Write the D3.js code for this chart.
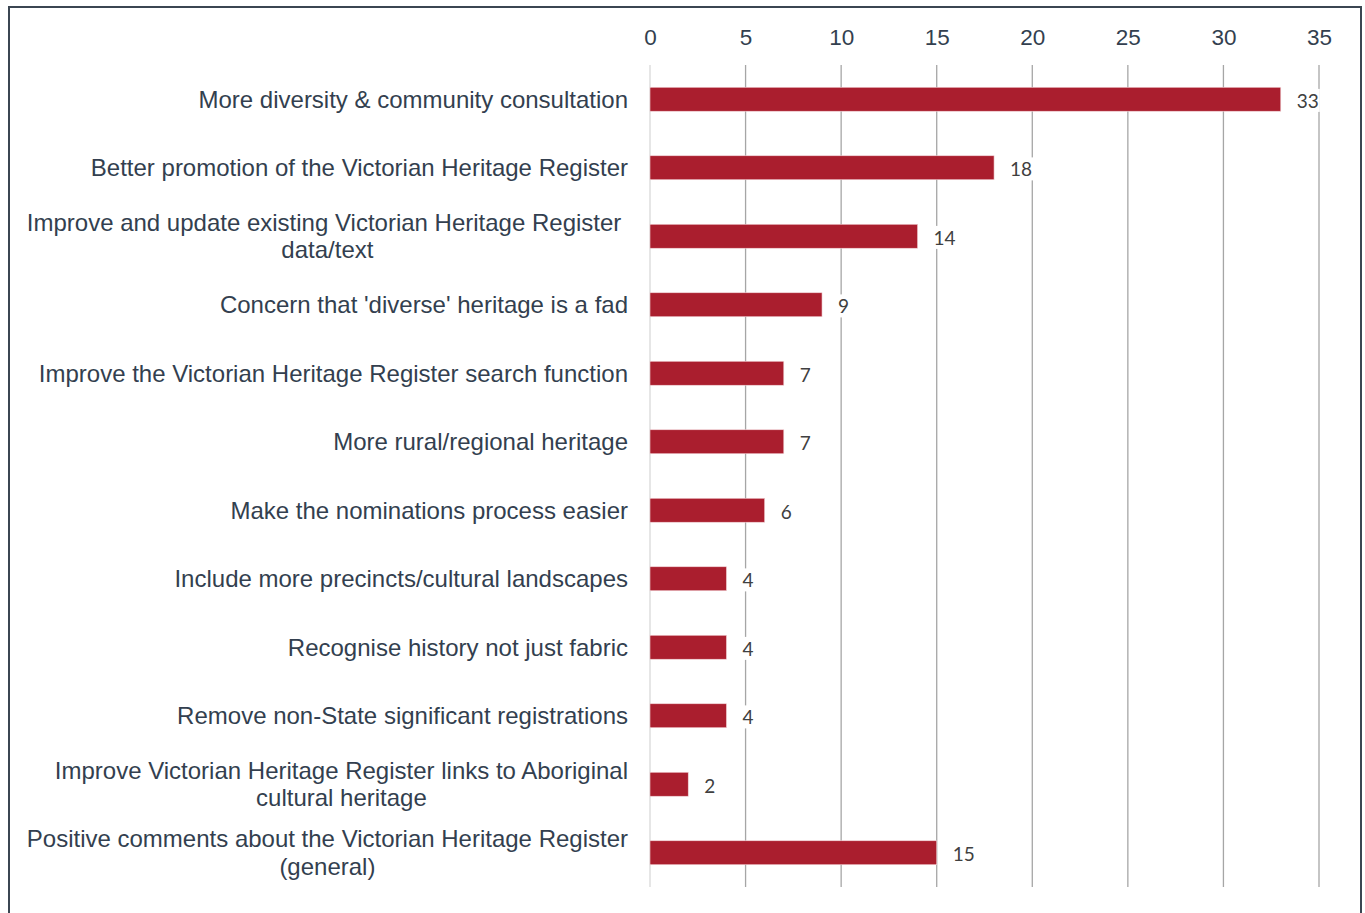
<!DOCTYPE html>
<html>
<head>
<meta charset="utf-8">
<script src="https://cdn.jsdelivr.net/npm/d3@7"></script>
<style>
  body { margin: 0; background: #fff; }
  svg { display: block; }
</style>
</head>
<body>
<svg width="1365" height="913"></svg>
<script>
// categories, top to bottom (multi-line labels split with "|")
let categories = [
  "More diversity & community consultation",
  "Better promotion of the Victorian Heritage Register",
  "Improve and update existing Victorian Heritage Register |data/text",
  "Concern that 'diverse' heritage is a fad",
  "Improve the Victorian Heritage Register search function",
  "More rural/regional heritage",
  "Make the nominations process easier ",
  "Include more precincts/cultural landscapes ",
  "Recognise history not just fabric ",
  "Remove non-State significant registrations",
  "Improve Victorian Heritage Register links to Aboriginal|cultural heritage",
  "Positive comments about the Victorian Heritage Register|(general)"
];
let values = [33, 18, 14, 9, 7, 7, 6, 4, 4, 4, 2, 15];
let tickValues = [0, 5, 10, 15, 20, 25, 30, 35];

let svg = d3.select("svg"),
    width = +svg.attr("width"),
    height = +svg.attr("height");

// frame
svg.append("rect")
    .attr("x", 9).attr("y", 7)
    .attr("width", 1352).attr("height", 920)
    .attr("fill", "none")
    .attr("stroke", "#3b4652")
    .attr("stroke-width", 2);

let x = d3.scaleLinear().domain([0, 35]).range([650, 1319]);
let y = d3.scaleBand().domain(d3.range(categories.length)).range([65, 887]).paddingInner(0.65).paddingOuter(0.325);

// gridlines
svg.append("g")
    .selectAll("line")
    .data(tickValues)
    .enter().append("line")
    .attr("x1", d => x(d)).attr("x2", d => x(d))
    .attr("y1", 65).attr("y2", 887)
    .attr("stroke", d => d === 0 ? "#d9d9d9" : "#a6a6a6")
    .attr("stroke-width", 1.3);

// top axis labels
let axis = svg.append("g")
    .attr("transform", "translate(0,37)")
    .call(d3.axisTop(x).tickValues(tickValues).tickSize(0).tickPadding(0));
axis.select(".domain").remove();
axis.selectAll("text")
    .attr("dy", "0.35em")
    .style("font-family", "'Liberation Sans', Arial, sans-serif")
    .style("font-size", "22.5px")
    .attr("fill", "#333f4f");

// bars
svg.append("g")
    .selectAll("rect")
    .data(values)
    .enter().append("rect")
    .attr("x", x(0))
    .attr("y", (d, i) => y(i))
    .attr("width", d => x(d) - x(0))
    .attr("height", y.bandwidth())
    .attr("fill", "#aa1e2e")
    .attr("stroke", "#f2d5d8")
    .attr("stroke-width", 0.6);

// value labels with white background
let vl = svg.append("g")
    .selectAll("g")
    .data(values)
    .enter().append("g")
    .attr("transform", (d, i) => "translate(" + (x(d) + 16) + "," + (y(i) + y.bandwidth() / 2 + 2) + ")");

vl.append("text")
    .text(d => d)
    .attr("dy", "0.35em")
    .style("font-family", "Lato, 'Open Sans', sans-serif")
    .style("font-size", "19px")
    .attr("fill", "#404040")
    .each(function() {
      let bb = this.getBBox();
      d3.select(this.parentNode).insert("rect", "text")
          .attr("x", bb.x - 1).attr("y", bb.y)
          .attr("width", bb.width + 2).attr("height", bb.height)
          .attr("fill", "#fff");
    });

// category labels
let lineH = 27.5;
let cl = svg.append("g")
    .selectAll("text")
    .data(categories)
    .enter().append("text")
    .attr("text-anchor", "middle")
    .style("font-family", "'Liberation Sans', Arial, sans-serif")
    .style("font-size", "24px")
    .attr("fill", "#333f4f");

cl.each(function(d, i) {
  let lines = d.split("|");
  let cy = y(i) + y.bandwidth() / 2;
  let t = d3.select(this);
  let spans = lines.map((s, k) => t.append("tspan")
      .attr("y", cy + (k - (lines.length - 1) / 2) * lineH)
      .attr("dy", "0.35em")
      .text(s));
  // right-align block, center lines within it
  let w = d3.max(spans, s => s.node().getComputedTextLength());
  spans.forEach(s => s.attr("x", 628 - w / 2));
});
</script>
</body>
</html>
